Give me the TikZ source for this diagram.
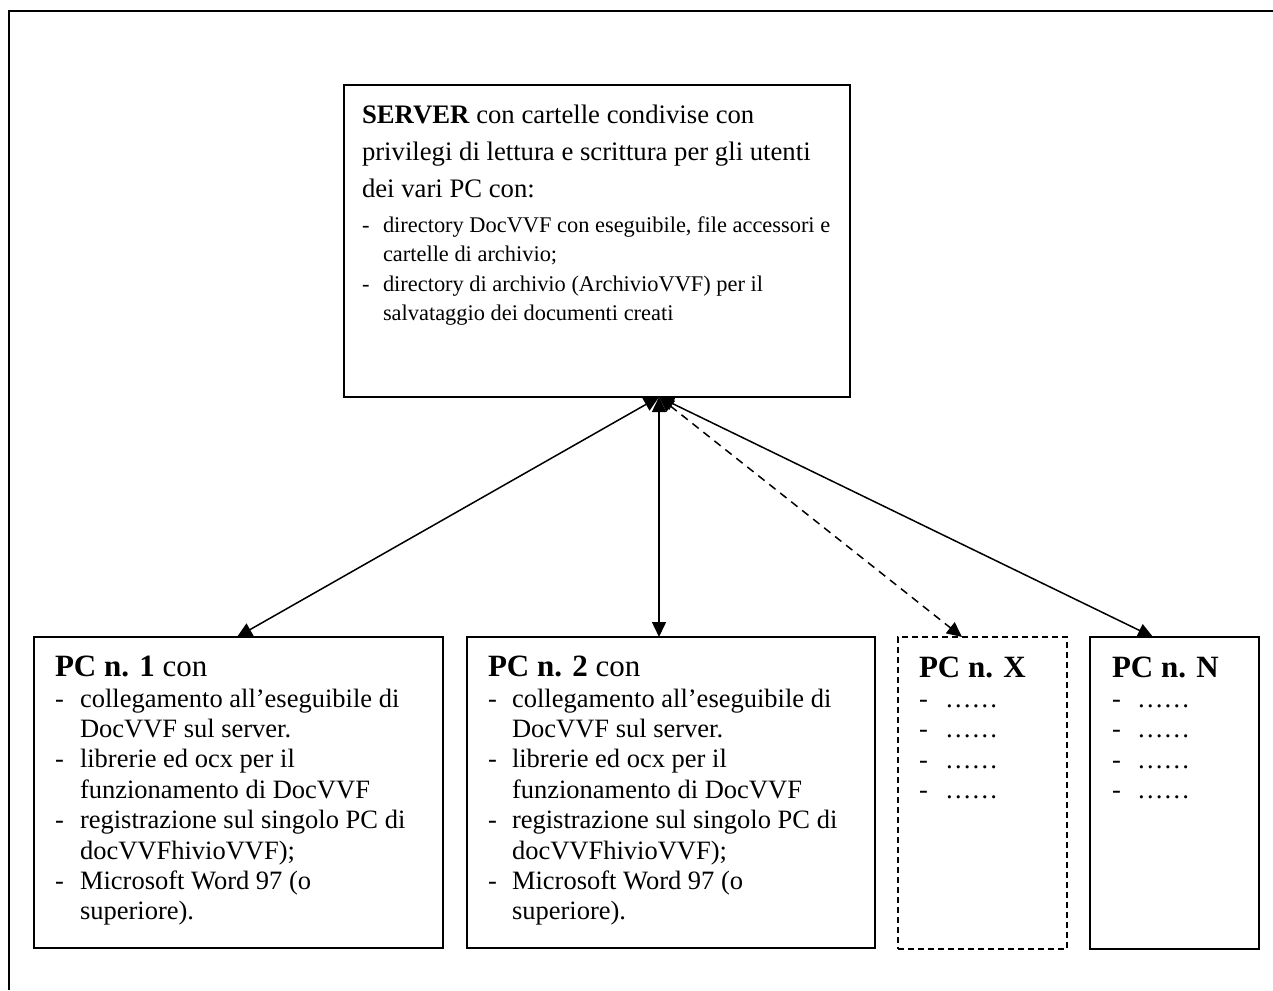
\documentclass[tikz,border=0pt]{standalone}
\usepackage{fontspec}
\setmainfont{Liberation Serif}
\usetikzlibrary{arrows.meta}
\newcommand{\pctext}[4]{%
  \node[hd] (#1h) at (#2,676) {\textbf{PC n. #4} con};
  \node[it] (#1d1) at (#2,707) {-};
  \node[it] (#1a1) at (#3,707) {collegamento all’eseguibile di};
  \node[it] (#1a2) at (#3,737.4) {DocVVF sul server.};
  \node[it] (#1d2) at (#2,767.8) {-};
  \node[it] (#1b1) at (#3,767.8) {librerie ed ocx per il};
  \node[it] (#1b2) at (#3,798.2) {funzionamento di DocVVF};
  \node[it] (#1d3) at (#2,828.6) {-};
  \node[it] (#1c1) at (#3,828.6) {registrazione sul singolo PC di};
  \node[it] (#1c2) at (#3,859) {docVVFhivioVVF);};
  \node[it] (#1d4) at (#2,889.4) {-};
  \node[it] (#1e1) at (#3,889.4) {Microsoft Word 97 (o};
  \node[it] (#1e2) at (#3,919.8) {superiore).};
}
\newcommand{\dotlist}[4]{%
  \node[hd] (#1h) at (#2,677) {\textbf{PC n. #4}};
  \node[it] (#1d1) at (#2,707) {-};
  \node[it] (#1p1) at (#3,707) {……};
  \node[it] (#1d2) at (#2,737.6) {-};
  \node[it] (#1p2) at (#3,737.6) {……};
  \node[it] (#1d3) at (#2,768.2) {-};
  \node[it] (#1p3) at (#3,768.2) {……};
  \node[it] (#1d4) at (#2,798.8) {-};
  \node[it] (#1p4) at (#3,798.8) {……};
}
\begin{document}
\begin{tikzpicture}[x=1pt,y=-1pt,
  box/.style={draw, line width=2pt, rectangle, inner sep=0pt, outer sep=0pt},
  dbox/.style={box, dash pattern=on 6pt off 4pt},
  ln/.style={anchor=base west, inner sep=0pt, outer sep=0pt},
  big/.style={ln, font=\fontsize{26.7}{32}\selectfont},
  sm/.style={ln, font=\fontsize{22.4}{27}\selectfont},
  hd/.style={ln, font=\fontsize{31}{37}\selectfont},
  it/.style={ln, font=\fontsize{26.5}{32}\selectfont},
  link/.style={line width=1.5pt, {Triangle[length=15pt,width=14pt]}-{Triangle[length=15pt,width=14pt]}},
  dlink/.style={link, dash pattern=on 8pt off 6pt},
  frame/.style={line width=2pt}]
\useasboundingbox (0,0) rectangle (1273,990);
% outer frame
\coordinate (fbl) at (9,990);
\coordinate (ftl) at (9,11);
\coordinate (ftr) at (1273,11);
\draw[frame] (fbl) -- (ftl) -- (ftr);
% boxes
\node[box, minimum width=506pt, minimum height=312pt] (server) at (597,241) {};
\node[box, minimum width=409pt, minimum height=311pt] (pc1) at (238.5,792.5) {};
\node[box, minimum width=408pt, minimum height=311pt] (pc2) at (671,792.5) {};
\node[dbox, minimum width=169pt, minimum height=312pt] (pcx) at (982.5,793) {};
\node[box, minimum width=169pt, minimum height=312pt] (pcn) at (1174.5,793) {};
% server text
\node[big] (s1) at (362,123) {\textbf{SERVER} con cartelle condivise con};
\node[big] (s2) at (362,160) {privilegi di lettura e scrittura per gli utenti};
\node[big] (s3) at (362,197) {dei vari PC con:};
\node[sm] (s4d) at (362,232) {-};
\node[sm] (s4) at (383,232) {directory DocVVF con eseguibile, file accessori e};
\node[sm] (s5) at (383,261) {cartelle di archivio;};
\node[sm] (s6d) at (362,291) {-};
\node[sm] (s6) at (383,291) {directory di archivio (ArchivioVVF) per il};
\node[sm] (s7) at (383,320) {salvataggio dei documenti creati};
% pc texts
\pctext{a}{55}{80}{1}
\pctext{b}{488}{512}{2}
\dotlist{x}{919}{945}{X}
\dotlist{n}{1112}{1137}{N}
% connectors
\coordinate (hub) at (659,397);
\coordinate (t1) at (237,637);
\coordinate (t2) at (659,637);
\coordinate (tx) at (962,637);
\coordinate (tn) at (1153,637);
\draw[link] (hub) -- (t1);
\draw[link] (hub) -- (t2);
\draw[dlink] (hub) -- (tx);
\draw[link] (hub) -- (tn);
\end{tikzpicture}
\end{document}
